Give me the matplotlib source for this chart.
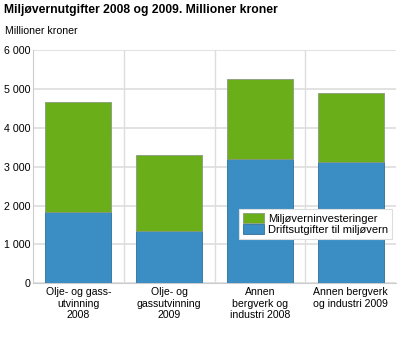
import matplotlib
matplotlib.use("Agg")
import matplotlib.pyplot as plt
import numpy as np

plt.rcParams['font.family'] = ['Liberation Sans', 'DejaVu Sans']

categories = ["Olje- og gass-\nutvinning\n2008", "Olje- og\ngassutvinning\n2009",
              "Annen\nbergverk og\nindustri 2008", "Annen bergverk\nog industri 2009"]
drift = [1845, 1356, 3188, 3110]
totals = [4655, 3289, 5245, 4884]
invest = [t - d for t, d in zip(totals, drift)]
yticks = [0, 1000, 2000, 3000, 4000, 5000, 6000]
ytick_labels = ["0", "1 000", "2 000", "3 000", "4 000", "5 000", "6 000"]

green = '#6aae1a'
blue = '#3a8ec4'
grid = '#dddddd'

fig = plt.figure(figsize=(4, 3.4), dpi=100)
ax = fig.add_axes([0.0825, 0.1667, 0.9075, 0.6863])

x = np.arange(len(categories))
w = 0.73
ax.bar(x, drift, w, color=blue, edgecolor='#2f6f99', linewidth=0.6, zorder=3,
       label='Driftsutgifter til miljøvern')
ax.bar(x, invest, w, bottom=drift, color=green, edgecolor='#8a9a80', linewidth=0.6, zorder=3,
       label='Miljøverninvesteringer')

ax.set_xlim(-0.5, len(categories) - 0.5)
ax.set_ylim(0, 6000)
ax.set_yticks(yticks)
ax.set_yticklabels(ytick_labels, fontsize=7.7)
ax.set_xticks(x)
ax.set_xticklabels(categories, fontsize=7.6, linespacing=1.15)
ax.tick_params(axis='both', length=0, pad=3)
ax.tick_params(axis='y', pad=2)

ax.yaxis.grid(True, color=grid, linewidth=1.2, zorder=0)
for b in np.arange(0.5, len(categories) - 0.5):
    ax.axvline(b, color=grid, linewidth=1, zorder=0)
for s in ['top', 'right']:
    ax.spines[s].set_visible(False)
ax.spines['left'].set_color('#cccccc')
ax.spines['bottom'].set_color('#cccccc')

handles, labels = ax.get_legend_handles_labels()
leg = ax.legend(handles[::-1], labels[::-1], loc='lower right', bbox_to_anchor=(0.99, 0.19),
                fontsize=8, frameon=True, fancybox=False, framealpha=1,
                borderpad=0.35, labelspacing=0.05, handlelength=1.9, handleheight=0.95,
                handletextpad=0.4, borderaxespad=0)
leg.get_frame().set_edgecolor('#dddddd')
leg.get_frame().set_linewidth(0.8)
leg.set_zorder(5)

fig.text(0.01, 0.97, "Miljøvernutgifter 2008 og 2009. Millioner kroner", fontsize=8.7,
         fontweight='bold', va='center', ha='left')
fig.text(0.012, 0.91, "Millioner kroner", fontsize=7.6, va='center', ha='left')

fig.savefig('out.png', dpi=100, facecolor='white')
